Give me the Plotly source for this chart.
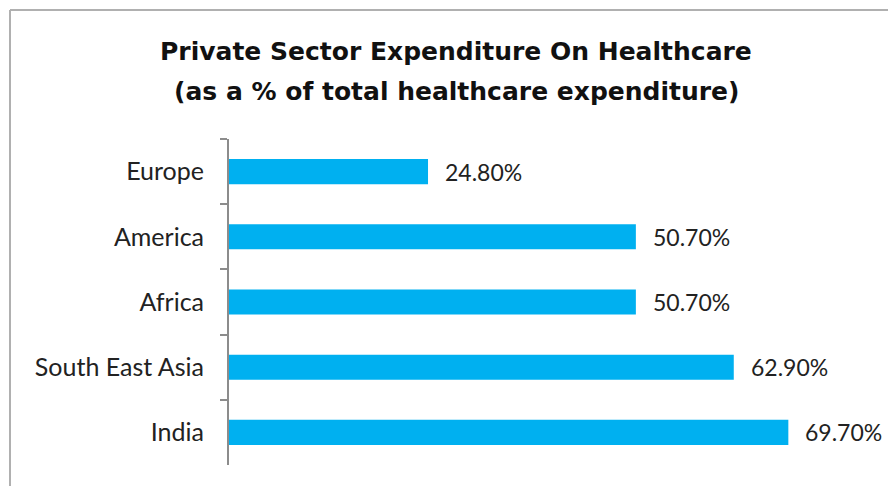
import plotly.graph_objects as go

regions = ["Europe", "America", "Africa", "South East Asia", "India"]
private_share = [24.8, 50.7, 50.7, 62.9, 69.7]
value_labels = ["24.80%", "50.70%", "50.70%", "62.90%", "69.70%"]

title_lines = ["Private Sector Expenditure On Healthcare",
               "(as a % of total healthcare expenditure)"]

W, H = 888, 486
L, R, T, B = 229, 17, 139, 21
pw, ph = W - L - R, H - T - B

def px_to_paper_x(px):
    return (px - L) / pw

def px_to_paper_y(py):
    return (H - B - py) / ph

fig = go.Figure(
    go.Bar(
        x=private_share,
        y=regions,
        orientation="h",
        marker=dict(color="#00B0F0", line=dict(width=0)),
        hoverinfo="skip",
    )
)

for reg, val, lab in zip(regions, private_share, value_labels):
    fig.add_annotation(
        x=val, y=reg, text=lab, showarrow=False,
        xanchor="left", xshift=15,
        font=dict(family="Lato", size=23, color="#222222"),
    )

# two-line heading
for line, py in zip(title_lines, [51, 92]):
    fig.add_annotation(
        xref="paper", yref="paper",
        x=px_to_paper_x(456), y=px_to_paper_y(py),
        xanchor="center", yanchor="middle",
        text="<b>" + line + "</b>", showarrow=False,
        font=dict(family="DejaVu Sans", size=25, color="#111111"),
    )

# slide frame: left and top edges
fig.add_shape(type="line", xref="paper", yref="paper",
              x0=px_to_paper_x(10), x1=px_to_paper_x(10),
              y0=px_to_paper_y(10), y1=px_to_paper_y(490),
              line=dict(color="#b0b0b0", width=2))
fig.add_shape(type="line", xref="paper", yref="paper",
              x0=px_to_paper_x(10), x1=px_to_paper_x(892),
              y0=px_to_paper_y(10), y1=px_to_paper_y(10),
              line=dict(color="#b0b0b0", width=2))

fig.update_layout(
    width=W, height=H,
    margin=dict(l=L, r=R, t=T, b=B, pad=0),
    paper_bgcolor="white", plot_bgcolor="white",
    bargap=0.615,
    showlegend=False,
    xaxis=dict(range=[0, 80], visible=False, showgrid=False, zeroline=False),
    yaxis=dict(
        autorange="reversed",
        showline=True, linecolor="#8c8c8c", linewidth=2,
        ticks="outside", tickson="boundaries", ticklen=7, tickwidth=2, tickcolor="#8c8c8c",
        ticklabelstandoff=18,
        showgrid=False,
        tickfont=dict(family="Lato", size=25, color="#222222"),
    ),
)

fig.write_html("out.html")
